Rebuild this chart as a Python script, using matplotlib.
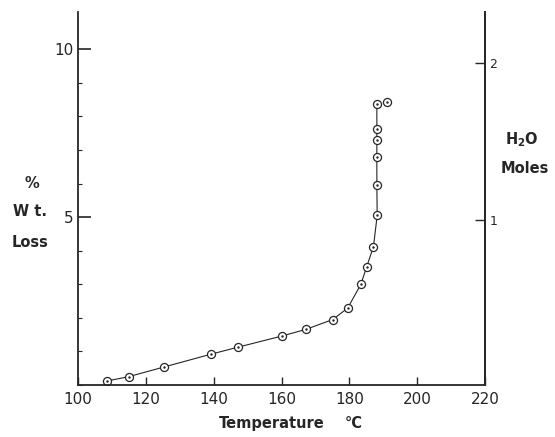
import matplotlib.pyplot as plt

# Temperature (C) and % weight loss
temp = [108.6, 115.0, 125.5, 139.3, 147.3, 160.2, 167.3, 175.1, 179.5,
        183.4, 185.1, 187.1, 188.2, 188.1, 188.1, 188.1, 188.1, 188.1]
loss = [0.12, 0.25, 0.54, 0.92, 1.13, 1.46, 1.66, 1.95, 2.29,
        3.00, 3.52, 4.12, 5.05, 5.97, 6.78, 7.31, 7.61, 8.38]
# last reading, not joined to the curve
temp_end = [191.1]
loss_end = [8.43]

x_ticks = [100, 120, 140, 160, 180, 200, 220]
y_ticks = [5, 10]
mole_ticks = [1, 2]

ink = '#262626'
plt.rcParams['font.family'] = ['DejaVu Sans']
plt.rcParams['mathtext.default'] = 'regular'

fig = plt.figure(figsize=(5.55, 4.37), dpi=100)
ax = fig.add_axes([0.1405, 0.119, 0.7335, 0.853])

ax.plot(temp, loss, '-', color=ink, lw=0.8)
allx = temp + temp_end
ally = loss + loss_end
ax.plot(allx, ally, 'o', ms=5.8, mfc='white', mec=ink, mew=0.9)
ax.plot(allx, ally, '.', ms=1.5, color=ink)

ax.set_xlim(100, 220)
ax.set_ylim(0, 11.1)
ax.set_xticks(x_ticks)
ax.set_yticks(y_ticks)
ax.set_yticks(range(0, 11), minor=True)
ax.spines['top'].set_visible(False)
for s in ['left', 'bottom', 'right']:
    ax.spines[s].set_color(ink)
    ax.spines[s].set_linewidth(1.3)

ax.tick_params(axis='x', direction='in', length=6, width=1.0, colors=ink,
               labelsize=11, pad=5)
ax.tick_params(axis='y', which='major', direction='in', length=9, width=1.2,
               colors=ink, labelsize=11, pad=3)
ax.tick_params(axis='y', which='minor', direction='in', length=3, width=0.8,
               colors=ink)

# right axis: moles of water
a, b = 0.24, 4.67
ax2 = ax.twinx()
ax2.set_ylim((0 - a) / b, (11.1 - a) / b)
ax2.set_yticks(mole_ticks)
for s in ['top', 'left', 'bottom']:
    ax2.spines[s].set_visible(False)
ax2.spines['right'].set_color(ink)
ax2.spines['right'].set_linewidth(1.3)
ax2.tick_params(axis='y', direction='in', length=7, width=1.0, colors=ink,
                labelsize=9, pad=3)

fig.text(0.058, 0.58, '%', ha='center', va='center', fontsize=10.5,
         fontweight='bold', color=ink)
fig.text(0.054, 0.515, 'W t.', ha='center', va='center', fontsize=10.5,
         fontweight='bold', color=ink)
fig.text(0.054, 0.445, 'Loss', ha='center', va='center', fontsize=10.5,
         fontweight='bold', color=ink)
fig.text(0.94, 0.68, 'H$_2$O', ha='center', va='center', fontsize=10.5,
         fontweight='bold', color=ink)
fig.text(0.945, 0.615, 'Moles', ha='center', va='center', fontsize=10.5,
         fontweight='bold', color=ink)
fig.text(0.49, 0.014, 'Temperature', ha='center', va='bottom', fontsize=10.5,
         fontweight='bold', color=ink)
fig.text(0.637, 0.014, '°C', ha='center', va='bottom', fontsize=10.5,
         fontweight='bold', color=ink)

fig.savefig('out.png', dpi=100)
